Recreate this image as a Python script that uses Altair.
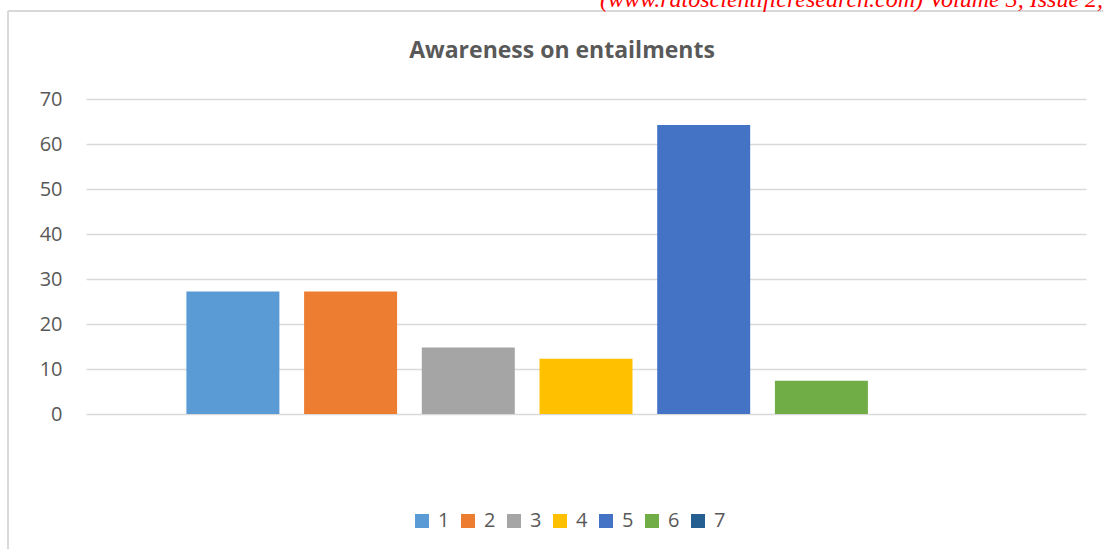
import altair as alt
import pandas as pd

series = ["1", "2", "3", "4", "5", "6", "7"]
values = [27.2, 27.2, 14.8, 12.3, 64.2, 7.4, 0.0]
colors = ["#5B9BD5", "#ED7D31", "#A5A5A5", "#FFC000", "#4472C4", "#70AD47", "#255E91"]
title_text = "Awareness on entailments"
header_text = "(www.ratoscientificresearch.com)  Volume 3, Issue 2,"

df = pd.DataFrame({"series": series, "value": values})

FONT = "Open Sans"
GRID = "#D9D9D9"
TXT = "#595959"

bars = alt.Chart(df).mark_bar().encode(
    x=alt.X("series:N", sort=series, axis=None,
            scale=alt.Scale(paddingInner=0.21, paddingOuter=0.853)),
    y=alt.Y("value:Q", title=None,
            scale=alt.Scale(domain=[0, 70], nice=False),
            axis=alt.Axis(values=[0, 10, 20, 30, 40, 50, 60, 70], grid=True,
                          gridColor=GRID, gridWidth=1.5, domain=False, ticks=False,
                          labelFont=FONT, labelFontSize=20, labelColor=TXT,
                          labelPadding=24)),
    color=alt.Color("series:N", sort=series,
                    scale=alt.Scale(domain=series, range=colors),
                    legend=alt.Legend(orient="none", direction="horizontal",
                                      legendX=326, legendY=412, title=None,
                                      symbolType="square", symbolSize=196,
                                      symbolStrokeWidth=0, labelFont=FONT,
                                      labelFontSize=20, labelColor=TXT,
                                      labelOffset=6, columnPadding=8)),
)

title = alt.Chart(pd.DataFrame({"t": [title_text]})).mark_text(
    font=FONT, fontSize=23, fontWeight="bold", color=TXT, align="center",
    baseline="middle").encode(text="t:N", x=alt.value(476), y=alt.value(-48))

header = alt.Chart(pd.DataFrame({"t": [header_text]})).mark_text(
    font="Liberation Serif", fontSize=24, fontStyle="italic", color="#FF0000",
    align="left", baseline="alphabetic").encode(text="t:N", x=alt.value(514), y=alt.value(-92))

frame_top = alt.Chart(pd.DataFrame({"a": [0]})).mark_rule(color=GRID, strokeWidth=2).encode(
    x=alt.value(-78), x2=alt.value(1030), y=alt.value(-88))
frame_left = alt.Chart(pd.DataFrame({"a": [0]})).mark_rule(color=GRID, strokeWidth=2).encode(
    x=alt.value(-78), y=alt.value(-88), y2=alt.value(460))

chart = alt.layer(frame_top, frame_left, header, title, bars).properties(
    width=1000, height=315,
    autosize=alt.AutoSizeParams(type="none"),
    padding={"left": 86, "top": 99, "right": 17, "bottom": 135},
    background="white",
).configure_view(stroke=None)

chart.save("out.html", embed_options={"renderer": "svg", "actions": False})
